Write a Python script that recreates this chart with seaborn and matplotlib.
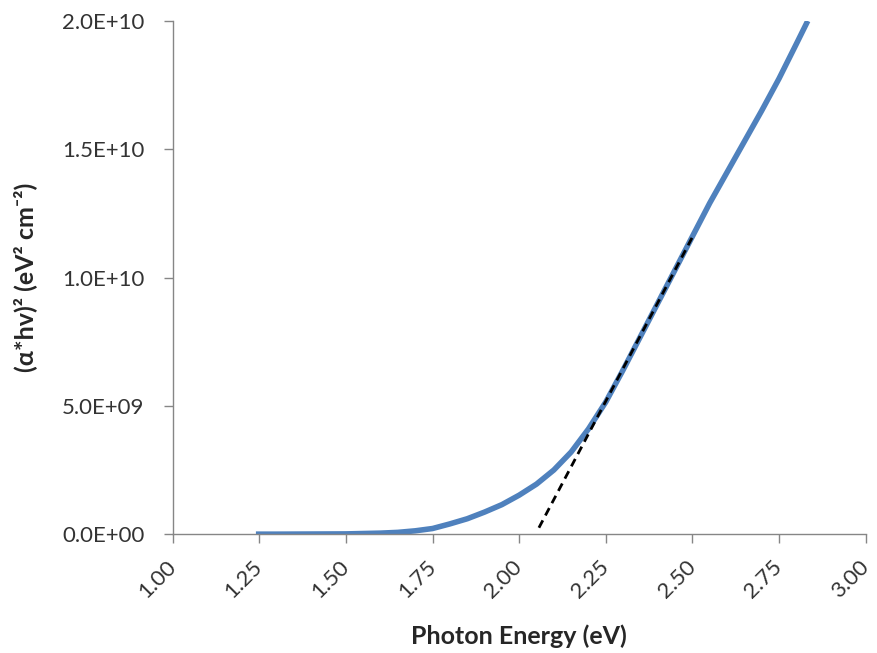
import numpy as np
import pandas as pd
import seaborn as sns
import matplotlib.pyplot as plt
from matplotlib.ticker import FuncFormatter

# Tauc plot data
energy = [1.24, 1.30, 1.40, 1.50, 1.60, 1.65, 1.70, 1.75, 1.80, 1.85, 1.90, 1.95,
          2.00, 2.05, 2.10, 2.15, 2.20, 2.25, 2.30, 2.35, 2.40, 2.45, 2.50,
          2.55, 2.60, 2.65, 2.70, 2.75, 2.80, 2.833]
tauc = [0.0, 0.0, 0.005e9, 0.01e9, 0.04e9, 0.07e9, 0.13e9, 0.22e9, 0.40e9, 0.60e9,
        0.86e9, 1.15e9, 1.52e9, 1.95e9, 2.5e9, 3.2e9, 4.1e9, 5.15e9, 6.4e9, 7.7e9,
        9.0e9, 10.3e9, 11.6e9, 12.9e9, 14.1e9, 15.3e9, 16.5e9, 17.75e9, 19.1e9, 20.0e9]

# linear fit (extrapolation) endpoints
fit_x = [2.057, 2.503]
fit_y = [0.25e9, 11.65e9]

x_ticks = [1.00, 1.25, 1.50, 1.75, 2.00, 2.25, 2.50, 2.75, 3.00]
y_ticks = [0.0, 5.0e9, 1.0e10, 1.5e10, 2.0e10]

sns.set_style("white")
plt.rcParams['font.family'] = ['Lato', 'DejaVu Sans']

df = pd.DataFrame({"energy": energy, "tauc": tauc})
fit_df = pd.DataFrame({"energy": fit_x, "tauc": fit_y})

fig = plt.figure(figsize=(8.77, 6.53), dpi=100)
ax = fig.add_axes([0.197, 0.182, 0.79, 0.786])

sns.lineplot(data=df, x="energy", y="tauc", ax=ax, color="#4F81BD", linewidth=4.0,
             solid_capstyle="butt", solid_joinstyle="round")
sns.lineplot(data=fit_df, x="energy", y="tauc", ax=ax, color="black", linewidth=2.0,
             linestyle=(0, (3, 2)))

ax.set_xlim(1.0, 3.0)
ax.set_ylim(0, 2.0e10)
ax.set_xticks(x_ticks)
ax.set_yticks(y_ticks)
ax.xaxis.set_major_formatter(FuncFormatter(lambda v, p: f"{v:.2f}"))
ax.yaxis.set_major_formatter(FuncFormatter(lambda v, p: f"{v:.1E}"))

ax.tick_params(axis="both", direction="out", length=6.5, width=1, color="#868686",
               labelsize=16, labelcolor="#333333", bottom=True, left=True)
ax.tick_params(axis="x", pad=15)
ax.tick_params(axis="y", pad=14)

for lab in ax.get_xticklabels():
    lab.set_rotation(45)
    lab.set_ha("right")
    lab.set_va("center")
    lab.set_rotation_mode("anchor")

for side in ["top", "right"]:
    ax.spines[side].set_visible(False)
for side in ["left", "bottom"]:
    ax.spines[side].set_color("#868686")
    ax.spines[side].set_linewidth(1)

ax.set_xlabel("Photon Energy (eV)", fontsize=18, fontweight="bold", labelpad=16)
ax.set_ylabel("(α*hv)² (eV² cm⁻²)", fontsize=18, fontweight="bold", labelpad=18)

plt.savefig("out.png", dpi=100)
